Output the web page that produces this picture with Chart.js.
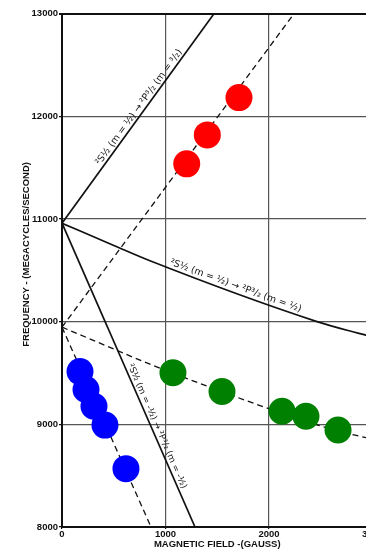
<!DOCTYPE html>
<html>
<head>
<meta charset="utf-8">
<script src="https://cdn.jsdelivr.net/npm/chart.js@4.4.1/dist/chart.umd.min.js"></script>
<style>
  html, body { margin: 0; padding: 0; background: #fff; overflow: hidden; }
  #wrap { width: 390px; height: 549px; }
</style>
</head>
<body>
<div id="wrap"><canvas id="chart"></canvas></div>
<script>
// measured points (gauss, Mc/sec)
const redField = [1205, 1404, 1710]
const redFreq = [11536, 11818, 12181]
const blueField = [174, 232, 309, 415, 618]
const blueFreq = [9513, 9339, 9175, 8992, 8568]
const greenField = [1072, 1546, 2126, 2357, 2667]
const greenFreq = [9503, 9320, 9127, 9079, 8944]

// theory curves (solid) and shifted curves (dashed)
const upField = [0, 1470]
const upFreq = [10958, 13000]
const midField = [0, 512, 850, 2464, 2783, 2937, 3000]
const midFreq = [10958, 10736, 10592, 10000, 9908, 9869, 9852]
const downField = [0, 1285]
const downFreq = [10958, 8000]

const upDashField = [0, 2243]
const upDashFreq = [9946, 13000]
const midDashField = [0, 512, 850, 2464, 2783, 2937, 3000]
const midDashFreq = [9946, 9728, 9585, 8995, 8905, 8870, 8855]
const downDashField = [0, 860]
const downDashFreq = [9946, 8000]

const xTicks = [0, 1000, 2000, 3000]
const yTicks = [8000, 9000, 10000, 11000, 12000, 13000]

const pts = (xs, ys) => xs.map((v, i) => ({ x: v, y: ys[i] }))

const labels = [
  { text: '²S½ (m = ½) → ²P³/₂ (m = ³/₂)', dir: pts(upField, upFreq), at: [790, 12055], size: 9.5 },
  { text: '²S½ (m = ½) → ²P³/₂ (m = ½)', dir: pts([850, 2464], [10592, 10000]), at: [1660, 10295], size: 9.5 },
  { text: '²S½ (m = -½) → ²P³/₂ (m = -½)', dir: pts(downField, downFreq), at: [870, 8960], size: 8.8 }
]

const lineLabels = {
  id: 'lineLabels',
  afterDatasetsDraw(chart) {
    const { ctx, scales: { x, y } } = chart
    ctx.save()
    labels.forEach(l => {
      const x0 = x.getPixelForValue(l.dir[0].x), y0 = y.getPixelForValue(l.dir[0].y)
      const x1 = x.getPixelForValue(l.dir[1].x), y1 = y.getPixelForValue(l.dir[1].y)
      let a = Math.atan2(y1 - y0, x1 - x0)
      const px = x.getPixelForValue(l.at[0]), py = y.getPixelForValue(l.at[1])
      ctx.save()
      ctx.translate(px, py)
      ctx.rotate(a)
      ctx.font = l.size + 'px "DejaVu Sans"'
      ctx.fillStyle = '#111'
      ctx.textAlign = 'center'
      ctx.textBaseline = 'bottom'
      ctx.fillText(l.text, 0, -1)
      ctx.restore()
    })
    ctx.restore()
  }
}

const solid = { borderColor: '#111', borderWidth: 1.7, pointRadius: 0, showLine: true, fill: false, order: 2 }
const dashed = { ...solid, borderWidth: 1.3, borderDash: [6, 4] }
const dots = color => ({ backgroundColor: color, borderWidth: 0, pointRadius: 13.5, showLine: false, order: 0 })

const tickFont = { family: '"Liberation Sans"', size: 9.5, weight: 'bold' }

new Chart(document.getElementById('chart'), {
  type: 'scatter',
  data: {
    datasets: [
      { ...dots('#ff0000'), data: pts(redField, redFreq) },
      { ...dots('#0000ff'), data: pts(blueField, blueFreq) },
      { ...dots('#008000'), data: pts(greenField, greenFreq) },
      { ...solid, data: pts(upField, upFreq) },
      { ...solid, data: pts(midField, midFreq), cubicInterpolationMode: 'monotone' },
      { ...solid, data: pts(downField, downFreq) },
      { ...dashed, data: pts(upDashField, upDashFreq) },
      { ...dashed, data: pts(midDashField, midDashFreq), cubicInterpolationMode: 'monotone' },
      { ...dashed, data: pts(downDashField, downDashFreq) }
    ]
  },
  options: {
    responsive: true,
    maintainAspectRatio: false,
    animation: false,
    layout: { padding: { left: 0, top: 8, right: 17.5, bottom: 0 } },
    plugins: { legend: { display: false }, tooltip: { enabled: false } },
    scales: {
      x: {
        type: 'linear', min: 0, max: 3000,
        afterBuildTicks: s => { s.ticks = xTicks.map(v => ({ value: v })) },
        afterFit: s => { s.height = 22 },
        ticks: { font: tickFont, color: '#111', padding: 0, maxRotation: 0, callback: v => String(v) },
        grid: {
          color: ctx => ctx.tick && ctx.tick.value === 3000 ? '#111' : '#555',
          lineWidth: 1.2, tickLength: 2, tickColor: '#111'
        },
        border: { display: true, color: '#111', width: 2 },
        title: {
          display: true, text: 'MAGNETIC FIELD -(GAUSS)', color: '#111',
          font: { family: '"Liberation Sans"', size: 9.5, weight: 'bold', lineHeight: 1 },
          padding: { top: 0, bottom: 0 }
        }
      },
      y: {
        type: 'linear', min: 8000, max: 13000,
        afterBuildTicks: s => { s.ticks = yTicks.map(v => ({ value: v })) },
        afterFit: s => { s.width = 62 },
        ticks: { font: tickFont, color: '#111', padding: 1, callback: v => String(v) },
        grid: {
          color: ctx => ctx.tick && ctx.tick.value === 13000 ? '#111' : '#555',
          lineWidth: ctx => ctx.tick && ctx.tick.value === 13000 ? 2 : 1.2,
          tickLength: 3, tickColor: '#111'
        },
        border: { display: true, color: '#111', width: 2 },
        title: {
          display: true, text: '            FREQUENCY - (MEGACYCLES/SECOND)', color: '#111',
          font: { family: '"Liberation Sans"', size: 9.5, weight: 'bold', lineHeight: 1.2 },
          padding: { top: 21, bottom: 0 }
        }
      }
    }
  },
  plugins: [lineLabels]
})
</script>
</body>
</html>
